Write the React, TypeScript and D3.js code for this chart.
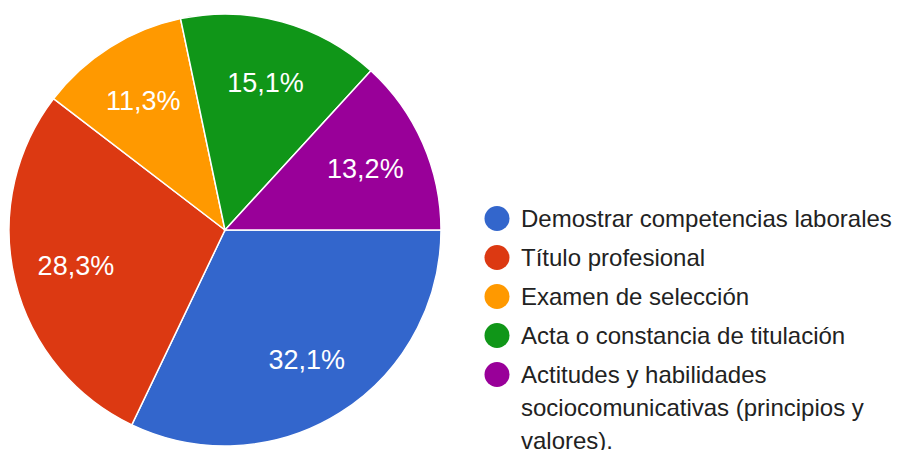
import React from "react";
import * as d3 from "d3";

const categories = [
  "Demostrar competencias laborales",
  "Título profesional",
  "Examen de selección",
  "Acta o constancia de titulación",
  "Actitudes y habilidades\nsociocomunicativas (principios y\nvalores).",
];
const values = [32.1, 28.3, 11.3, 15.1, 13.2];
const labels = ["32,1%", "28,3%", "11,3%", "15,1%", "13,2%"];
const colors = ["#3366cc", "#dc3912", "#ff9900", "#109618", "#990099"];

const W = 901;
const H = 450;
const cx = 225;
const cy = 230;
const R = 216;

export default function App() {
  const pie = d3
    .pie<number>()
    .sort(null)
    .startAngle(Math.PI / 2)
    .endAngle(Math.PI / 2 + 2 * Math.PI)(values);
  const arc = d3.arc<d3.PieArcDatum<number>>().innerRadius(0).outerRadius(R);
  const labelArc = d3
    .arc<d3.PieArcDatum<number>>()
    .innerRadius(R * 0.71)
    .outerRadius(R * 0.71);

  const rowY = d3.scaleLinear().domain([0, 1]).range([218.5, 257.5]);

  return (
    <svg
      width={W}
      height={H}
      style={{ position: "absolute", left: 0, top: 0, background: "#fff" }}
      fontFamily="Arial, 'Liberation Sans', sans-serif"
    >
      <g transform={`translate(${cx},${cy})`}>
        {pie.map((d, i) => (
          <path
            key={i}
            d={arc(d) || ""}
            fill={colors[i]}
            stroke="#fff"
            strokeWidth={1.5}
          />
        ))}
        {pie.map((d, i) => {
          const [x, y] = labelArc.centroid(d);
          return (
            <text
              key={i}
              x={x}
              y={y}
              dy="0.35em"
              textAnchor="middle"
              fill="#fff"
              fontSize={27}
            >
              {labels[i]}
            </text>
          );
        })}
      </g>
      <g>
        {categories.map((c, i) => {
          const y = rowY(i);
          const lines = c.split("\n");
          return (
            <g key={i}>
              <circle cx={497} cy={y} r={12.5} fill={colors[i]} />
              <text x={521} y={y} dy="0.35em" fontSize={24} fill="#222">
                {lines.map((l, j) => (
                  <tspan key={j} x={521} dy={j === 0 ? "0.35em" : 33}>
                    {l}
                  </tspan>
                ))}
              </text>
            </g>
          );
        })}
      </g>
    </svg>
  );
}
